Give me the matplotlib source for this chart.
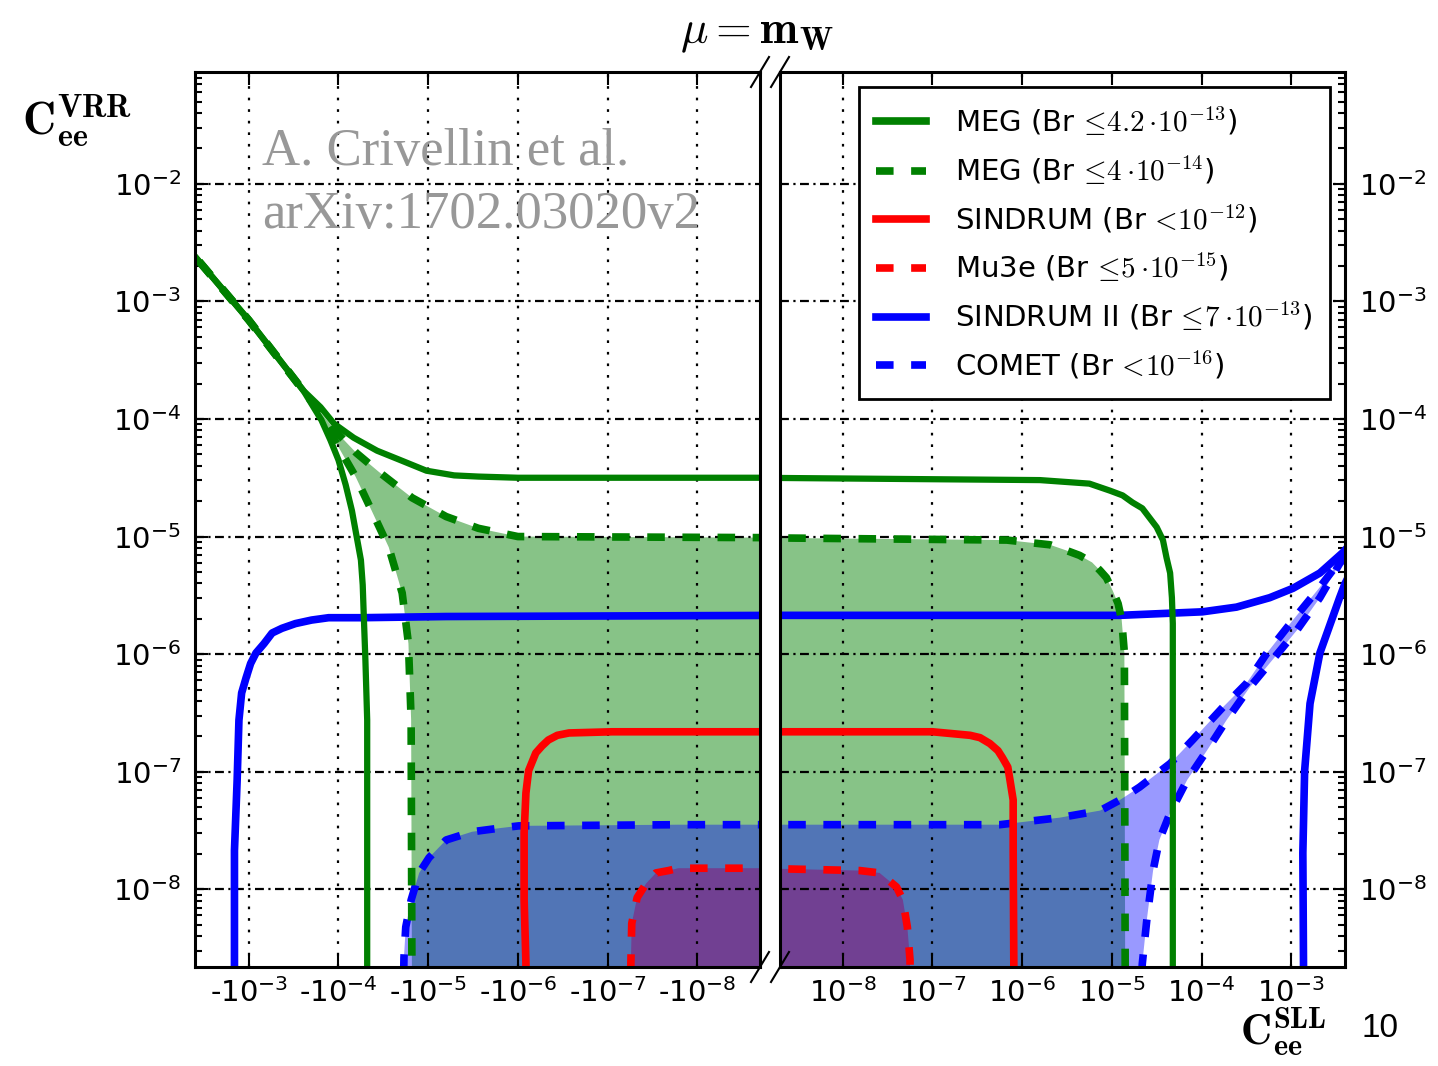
import numpy as np
import matplotlib.pyplot as plt
from matplotlib.font_manager import FontProperties
from matplotlib.lines import Line2D
from matplotlib.ticker import LogLocator, NullFormatter, NullLocator

# all values are log10 |C_ee^SLL| (x) and log10 C_ee^VRR (y)
# ---- left half (negative C_SLL) ----
tail_L_x = [-2.2, -2.39, -3.0, -3.61]          # shared MEG cancellation line
tail_L_y = [-2.43, -2.61, -3.16, -3.76]

meg1_up_L_x = [-3.61, -3.80, -3.95, -4.17, -4.43, -4.69, -4.98, -5.29, -5.56, -6.0, -9.0]
meg1_up_L_y = [-3.76, -3.90, -4.04, -4.16, -4.27, -4.35, -4.44, -4.48, -4.49, -4.50, -4.50]
meg1_lo_L_x = [-3.61, -3.81, -3.91, -4.00, -4.08, -4.15, -4.20, -4.25, -4.27, -4.28, -4.30, -4.32, -4.32]
meg1_lo_L_y = [-3.76, -4.01, -4.18, -4.35, -4.56, -4.78, -4.99, -5.20, -5.41, -5.63, -6.05, -6.56, -9.0]

meg2_up_L_x = [-3.75, -4.0, -4.2, -4.45, -4.82, -5.20, -5.56, -6.0, -9.0]
meg2_up_L_y = [-3.90, -4.13, -4.29, -4.45, -4.67, -4.83, -4.93, -5.0, -5.01]
meg2_lo_L_x = [-3.75, -4.00, -4.19, -4.37, -4.56, -4.71, -4.78, -4.81, -4.82]
meg2_lo_L_y = [-3.90, -4.24, -4.49, -4.78, -5.09, -5.48, -5.91, -6.56, -9.0]

sind2_L_x = [-2.84, -2.84, -2.87, -2.89, -2.92, -2.97, -3.02, -3.08, -3.17, -3.26, -3.37,
             -3.52, -3.70, -3.89, -4.26, -5.20, -9.0]
sind2_L_y = [-9.0, -7.67, -7.07, -6.56, -6.33, -6.20, -6.08, -5.99, -5.91, -5.82, -5.78,
             -5.74, -5.71, -5.69, -5.69, -5.68, -5.67]

comet_L_x = [-4.72, -4.73, -4.75, -4.81, -4.90, -5.01, -5.20, -5.49, -5.79, -6.01, -7.79, -9.0]
comet_L_y = [-9.0, -8.58, -8.32, -8.09, -7.86, -7.73, -7.58, -7.51, -7.48, -7.46, -7.45, -7.45]

sind_L_x = [-6.09, -6.09, -6.07, -6.07, -6.09, -6.12, -6.20, -6.27, -6.34, -6.44, -6.57, -7.05, -9.0]
sind_L_y = [-9.0, -8.63, -8.09, -7.52, -7.18, -6.99, -6.84, -6.78, -6.73, -6.69, -6.67, -6.66, -6.66]

mu3e_L_x = [-7.26, -7.26, -7.27, -7.33, -7.43, -7.54, -7.68, -7.79, -9.0]
mu3e_L_y = [-9.0, -8.63, -8.29, -8.07, -7.95, -7.86, -7.84, -7.82, -7.82]

# ---- right half (positive C_SLL) ----
meg1_R_x = [-9.0, -5.80, -5.25, -5.02, -4.88, -4.77, -4.66, -4.58, -4.50, -4.43, -4.39,
            -4.35, -4.33, -4.32, -4.32]
meg1_R_y = [-4.50, -4.52, -4.55, -4.61, -4.65, -4.71, -4.76, -4.84, -4.92, -5.03, -5.18,
            -5.31, -5.52, -5.74, -9.0]
meg2_R_x = [-9.0, -6.17, -5.69, -5.50, -5.36, -5.22, -5.13, -5.06, -4.99, -4.93, -4.89, -4.86, -4.85]
meg2_R_y = [-5.01, -5.03, -5.07, -5.12, -5.16, -5.22, -5.29, -5.35, -5.46, -5.57, -5.71, -5.99, -9.0]

sind2_up_R_x = [-9.0, -4.91, -3.99, -3.61, -3.24, -2.98, -2.68, -2.43, -2.2]
sind2_up_R_y = [-5.67, -5.67, -5.64, -5.60, -5.52, -5.44, -5.31, -5.14, -4.95]
sind2_lo_R_x = [-2.2, -2.40, -2.46, -2.68, -2.79, -2.85, -2.87, -2.86]
sind2_lo_R_y = [-5.1, -5.40, -5.52, -5.99, -6.42, -6.99, -7.69, -9.0]

comet_up_R_x = [-9.0, -6.25, -5.58, -5.13, -4.91, -4.69, -4.35, -4.10, -3.76, -3.50, -3.27, -2.98, -2.68, -2.43, -2.2]
comet_up_R_y = [-7.45, -7.45, -7.39, -7.33, -7.24, -7.13, -6.93, -6.73, -6.45, -6.25, -5.99, -5.71, -5.43, -5.18, -4.98]
comet_lo_R_x = [-4.69, -4.66, -4.61, -4.54, -4.47, -4.35, -4.16, -3.94, -3.72, -3.46, -3.21, -2.94, -2.68, -2.46, -2.2]
comet_lo_R_y = [-9.0, -8.63, -8.26, -7.84, -7.58, -7.35, -7.07, -6.82, -6.56, -6.28, -6.05, -5.80, -5.52, -5.23, -4.98]

sind_R_x = [-9.0, -7.0, -6.58, -6.47, -6.36, -6.27, -6.22, -6.16, -6.14, -6.10, -6.10, -6.09]
sind_R_y = [-6.66, -6.66, -6.69, -6.71, -6.76, -6.82, -6.88, -6.96, -7.05, -7.24, -7.67, -9.0]
mu3e_R_x = [-9.0, -7.81, -7.59, -7.40, -7.33, -7.28, -7.25, -7.25]
mu3e_R_y = [-7.82, -7.84, -7.86, -7.98, -8.09, -8.32, -8.60, -9.0]

labels = [r'MEG (Br$\,\leq\!4.2\cdot\!10^{-13}$)',
          r'MEG (Br$\,\leq\!4\cdot\!10^{-14}$)',
          r'SINDRUM (Br$\,<\!10^{-12}$)',
          r'Mu3e (Br$\,\leq\!5\cdot\!10^{-15}$)',
          r'SINDRUM II (Br$\,\leq\!7\cdot\!10^{-13}$)',
          r'COMET (Br$\,<\!10^{-16}$)']


def p(v):
    return 10.0 ** np.asarray(v, dtype=float)


G, R, B = '#008000', '#ff0000', '#0000ff'
DASH = (0, (2.3, 2.3))

W, H = 1438, 1066
fig = plt.figure(figsize=(W / 100, H / 100), dpi=100)
axL = fig.add_axes([195 / W, 99 / H, 565 / W, 895 / H])
axR = fig.add_axes([780 / W, 99 / H, 565 / W, 895 / H])

# fills: green, red, blue (alpha blended like the original)
bot = -9.0
axL.fill(p(meg2_lo_L_x[::-1] + meg2_up_L_x[1:] + [bot]),
         p(meg2_lo_L_y[::-1] + meg2_up_L_y[1:] + [bot]), color=G, alpha=0.47, lw=0)
axL.fill(p(mu3e_L_x + [bot]), p(mu3e_L_y + [bot]), color=R, alpha=0.45, lw=0)
axL.fill(p(comet_L_x + [bot]), p(comet_L_y + [bot]), color=B, alpha=0.4, lw=0)

axR.fill(p([bot] + meg2_R_x), p([bot] + meg2_R_y), color=G, alpha=0.47, lw=0)
axR.fill(p([bot] + mu3e_R_x), p([bot] + mu3e_R_y), color=R, alpha=0.45, lw=0)
axR.fill(p([bot] + comet_up_R_x + comet_lo_R_x[::-1]),
         p([bot] + comet_up_R_y + comet_lo_R_y[::-1]), color=B, alpha=0.4, lw=0)

# lines, left
axL.plot(p(sind2_L_x), p(sind2_L_y), color=B, lw=5.5)
axL.plot(p(comet_L_x), p(comet_L_y), color=B, lw=5.5, ls=DASH)
axL.plot(p(tail_L_x + meg1_up_L_x[1:]), p(tail_L_y + meg1_up_L_y[1:]), color=G, lw=4.5)
axL.plot(p(tail_L_x + meg1_lo_L_x[1:]), p(tail_L_y + meg1_lo_L_y[1:]), color=G, lw=4.5)
axL.plot(p(tail_L_x[:-1] + meg2_up_L_x), p(tail_L_y[:-1] + meg2_up_L_y), color=G, lw=5.5, ls=DASH)
axL.plot(p(tail_L_x[:-1] + meg2_lo_L_x), p(tail_L_y[:-1] + meg2_lo_L_y), color=G, lw=5.5, ls=DASH)
axL.plot(p(sind_L_x), p(sind_L_y), color=R, lw=5.5)
axL.plot(p(mu3e_L_x), p(mu3e_L_y), color=R, lw=5.5, ls=DASH)

# lines, right
axR.plot(p(sind2_up_R_x), p(sind2_up_R_y), color=B, lw=5.5)
axR.plot(p(sind2_lo_R_x), p(sind2_lo_R_y), color=B, lw=5.5)
axR.plot(p(comet_up_R_x), p(comet_up_R_y), color=B, lw=5.5, ls=DASH)
axR.plot(p(comet_lo_R_x), p(comet_lo_R_y), color=B, lw=5.5, ls=DASH)
axR.plot(p(meg1_R_x), p(meg1_R_y), color=G, lw=4.5)
axR.plot(p(meg2_R_x), p(meg2_R_y), color=G, lw=5.5, ls=DASH)
axR.plot(p(sind_R_x), p(sind_R_y), color=R, lw=5.5)
axR.plot(p(mu3e_R_x), p(mu3e_R_y), color=R, lw=5.5, ls=DASH)

xt = [1e-3, 1e-4, 1e-5, 1e-6, 1e-7, 1e-8]
yt = [1e-8, 1e-7, 1e-6, 1e-5, 1e-4, 1e-3, 1e-2]
ytl = [r'$10^{%d}$' % e for e in range(-8, -1)]

for ax in (axL, axR):
    ax.set_xscale('log')
    ax.set_yscale('log')
    ax.set_ylim(10 ** -8.66, 10 ** -1.05)
    ax.set_xticks(xt)
    ax.xaxis.set_minor_locator(NullLocator())
    ax.set_yticks(yt)
    ax.yaxis.set_minor_locator(LogLocator(base=10, subs=np.arange(2, 10), numticks=20))
    ax.yaxis.set_minor_formatter(NullFormatter())
    ax.grid(True, axis='x', which='major', color='k', lw=1.6, ls=(0, (1.2, 4.0)))
    ax.grid(True, axis='y', which='major', color='k', lw=1.6, ls=(0, (4.0, 2.0, 1.0, 2.0)))
    ax.tick_params(which='both', direction='in', top=True, width=1.5, labelsize=21)
    ax.tick_params(which='major', length=9)
    ax.tick_params(which='minor', length=5)
    ax.tick_params(axis='x', pad=8)
    for s in ax.spines.values():
        s.set_linewidth(2.2)

axL.set_xlim(10 ** -2.4, 10 ** -8.7)
axR.set_xlim(10 ** -8.7, 10 ** -2.4)
axL.set_xticklabels(['-$10^{%d}$' % e for e in range(-3, -9, -1)])
axR.set_xticklabels([r'$10^{%d}$' % e for e in range(-3, -9, -1)])
axL.set_yticklabels(ytl)
axL.tick_params(axis='y', which='both', right=False, pad=10)
axR.set_yticklabels(ytl)
axR.tick_params(axis='y', which='both', left=False, right=True, labelleft=False, labelright=True, pad=10)

# axis break marks
dx, dy = 9 / 565, 15 / 895
for ax, x0 in ((axL, 1), (axR, 0)):
    for y0 in (0, 1):
        ax.plot([x0 - dx, x0 + dx], [y0 - dy, y0 + dy], transform=ax.transAxes,
                color='k', lw=1.5, clip_on=False)

handles = [Line2D([], [], color=G, lw=5.5),
           Line2D([], [], color=G, lw=5.5, ls=DASH),
           Line2D([], [], color=R, lw=5.5),
           Line2D([], [], color=R, lw=5.5, ls=DASH),
           Line2D([], [], color=B, lw=5.5),
           Line2D([], [], color=B, lw=5.5, ls=DASH)]
leg = axR.legend(handles, labels, loc='upper right',
                 bbox_to_anchor=((1330 - 780) / 565, (967 - 87) / 895), borderaxespad=0,
                 prop=FontProperties(family='DejaVu Sans', size=21, math_fontfamily='cm'),
                 handlelength=1.7, handletextpad=1.0, labelspacing=0.55,
                 borderpad=0.6, fancybox=False, framealpha=1, edgecolor='k')
leg.get_frame().set_linewidth(2.0)

fig.text(262 / W, 1 - 165 / H, 'A. Crivellin et al.', family='Liberation Serif',
         fontsize=38, color='#989898', va='baseline')
fig.text(262 / W, 1 - 228 / H, 'arXiv:1702.03020v2', family='Liberation Serif',
         fontsize=38, color='#989898', va='baseline')

fig.text(757 / W, 1 - 43 / H, r'$\mu=\mathbf{m}_{\mathbf{W}}$', ha='center',
         va='baseline', fontsize=33, math_fontfamily='cm')
fig.text(22 / W, 1 - 135 / H, r'$\mathbf{C}_{\mathbf{ee}}^{\mathbf{VRR}}$',
         va='baseline', fontsize=33, math_fontfamily='cm')
fig.text(1240 / W, 1 - 1045 / H, r'$\mathbf{C}_{\mathbf{ee}}^{\mathbf{SLL}}$',
         va='baseline', fontsize=31, math_fontfamily='cm')
fig.text(1362 / W, 1 - 1037 / H, '10', family='Liberation Sans', fontsize=24,
         va='baseline')

fig.savefig('out.png', dpi=100)
